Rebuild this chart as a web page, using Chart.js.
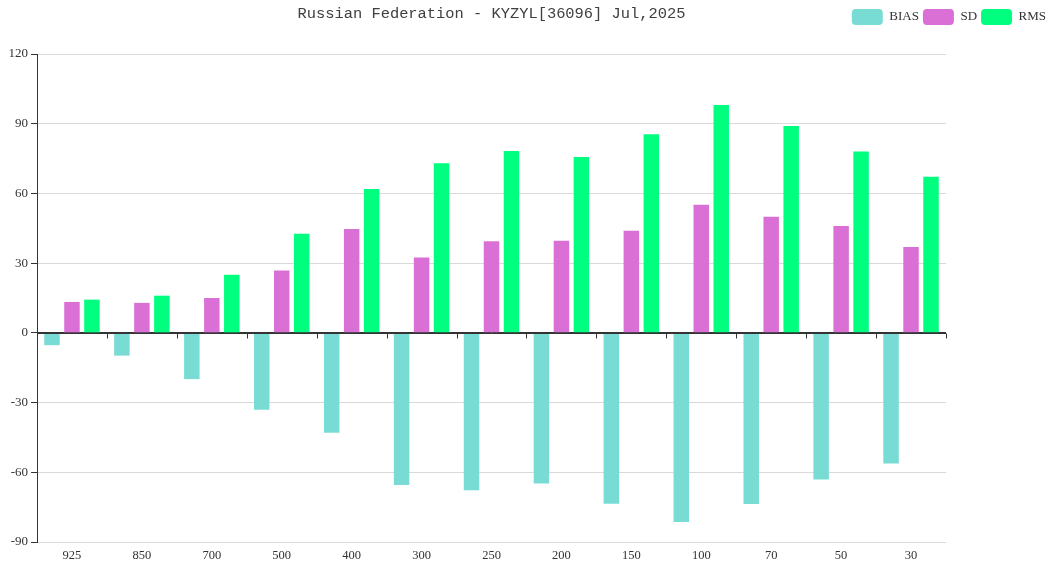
<!DOCTYPE html>
<html>
<head>
<meta charset="utf-8">
<script src="https://cdn.jsdelivr.net/npm/chart.js@4/dist/chart.umd.min.js"></script>
<style>
  body { margin: 0; background: #fff; overflow: hidden; }
  #wrap { position: relative; width: 1055px; height: 567px; }
  #title {
    position: absolute; left: 37px; width: 909px; top: 5px;
    text-align: center; font-family: "Liberation Mono", monospace;
    font-size: 15.4px; color: #404040; white-space: nowrap;
  }
</style>
</head>
<body>
<div id="wrap">
  <canvas id="chart" width="1055" height="567"></canvas>
  <div id="title">Russian Federation - KYZYL[36096] Jul,2025</div>
</div>
<script>
// pressure levels (hPa)
var levels = ["925", "850", "700", "500", "400", "300", "250", "200", "150", "100", "70", "50", "30"];

var biasData = [-5.3, -9.8, -19.9, -33.1, -43.0, -65.5, -67.7, -64.8, -73.5, -81.4, -73.7, -63.1, -56.2];
var sdData   = [13.3, 12.9, 15.0, 26.8, 44.7, 32.4, 39.4, 39.6, 43.9, 55.1, 50.0, 46.0, 37.0];
var rmsData  = [14.3, 16.0, 25.0, 42.6, 61.9, 73.0, 78.3, 75.7, 85.5, 98.1, 89.0, 78.0, 67.2];

var yTicks = { min: -90, max: 120, step: 30 };

var textColor = "#333";
var serif = "'Liberation Serif', serif";

// axis line at zero with ticks at category boundaries
var zeroAxis = {
  id: "zeroAxis",
  afterDatasetsDraw: function (chart) {
    var xs = chart.scales.x, ys = chart.scales.y, ctx = chart.ctx;
    var y0 = Math.round(ys.getPixelForValue(0)) + 0.5;
    ctx.save();
    ctx.strokeStyle = textColor;
    ctx.lineWidth = 1;
    ctx.beginPath();
    ctx.moveTo(xs.left, y0);
    ctx.lineTo(xs.right, y0);
    for (var i = 0; i <= levels.length; i++) {
      var x = Math.round(xs.getPixelForValue(i - 0.5)) + 0.5;
      ctx.moveTo(x, y0);
      ctx.lineTo(x, y0 + 5);
    }
    ctx.stroke();
    ctx.restore();
  }
};

var legendSpace = {
  id: "legendSpace",
  beforeInit: function (chart) {
    var fit = chart.legend.fit;
    chart.legend.fit = function () {
      fit.bind(chart.legend)();
      this.height = 49;
    };
  }
};

var ctx = document.getElementById("chart").getContext("2d");
var chart = new Chart(ctx, {
  type: "bar",
  data: {
    labels: levels,
    datasets: [
      { label: "BIAS", data: biasData, backgroundColor: "#78dcd4", borderWidth: 0 },
      { label: "SD", data: sdData, backgroundColor: "#da70d6", borderWidth: 0 },
      { label: "RMS", data: rmsData, backgroundColor: "#00ff7f", borderWidth: 0 }
    ]
  },
  options: {
    responsive: false,
    animation: false,
    layout: { padding: { top: 5, left: 0, right: 5, bottom: 0 } },
    datasets: { bar: { categoryPercentage: 0.857, barPercentage: 0.775 } },
    plugins: {
      title: { display: false },
      tooltip: { enabled: false },
      legend: {
        position: "top",
        align: "end",
        labels: {
          boxWidth: 31,
          boxHeight: 16,
          padding: 4,
          useBorderRadius: true,
          borderRadius: 4,
          color: textColor,
          font: { family: serif, size: 13 }
        }
      }
    },
    scales: {
      x: {
        grid: { display: false, tickLength: 0 },
        border: { display: false },
        ticks: { color: textColor, font: { family: serif, size: 12.5 }, padding: 6 },
        afterFit: function (s) { s.height = 25; }
      },
      y: {
        min: yTicks.min,
        max: yTicks.max,
        ticks: { stepSize: yTicks.step, color: textColor, font: { family: serif, size: 13 }, padding: 3 },
        grid: {
          color: function (c) { return c.tick && c.tick.value === 0 ? textColor : "#d9d9d9"; },
          tickColor: textColor,
          tickLength: 6
        },
        border: { display: true, color: textColor },
        afterFit: function (s) { s.width = 37; }
      },
      yRight: {
        position: "right",
        display: true,
        grid: { display: false },
        border: { display: false },
        ticks: { display: false },
        afterFit: function (s) { s.width = 104; }
      }
    }
  },
  plugins: [zeroAxis, legendSpace]
});
</script>
</body>
</html>
